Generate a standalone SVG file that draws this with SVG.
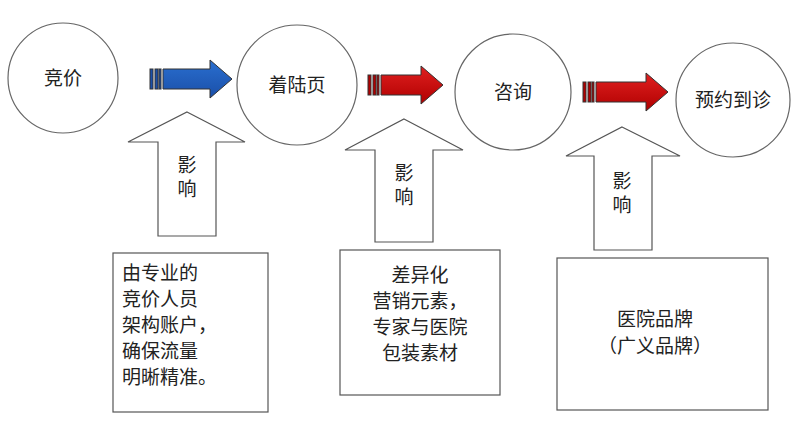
<svg xmlns="http://www.w3.org/2000/svg" width="800" height="425" viewBox="0 0 800 425">
<defs>
<linearGradient id="blue" x1="0" y1="0" x2="0" y2="1"><stop offset="0" stop-color="#2a6fd0"/><stop offset="1" stop-color="#1a4fa8"/></linearGradient>
<linearGradient id="red" x1="0" y1="0" x2="0" y2="1"><stop offset="0" stop-color="#e02020"/><stop offset="1" stop-color="#b00000"/></linearGradient>
</defs>
<style>
.c{fill:#fff;stroke:#666;stroke-width:1.2}
.b{fill:#fff;stroke:#555;stroke-width:1.2}
.t{font-family:"Liberation Serif","Noto Sans CJK SC",serif;font-size:19px;fill:#222}
.ar{stroke:#333;stroke-width:1}
</style>
<rect width="800" height="425" fill="#fff"/>
<g id="n1"><circle class="c" cx="63" cy="78" r="55"/><text class="t" x="63" y="85" text-anchor="middle">竞价</text></g>
<g id="n2"><circle class="c" cx="297" cy="85" r="60"/><text class="t" x="297" y="92" text-anchor="middle">着陆页</text></g>
<g id="n3"><circle class="c" cx="513" cy="92" r="58"/><text class="t" x="513" y="99" text-anchor="middle">咨询</text></g>
<g id="n4"><circle class="c" cx="733" cy="100" r="57"/><text class="t" x="733" y="107" text-anchor="middle">预约到诊</text></g>
<g id="connectors">
<g class="ar">
<rect x="150" y="69" width="3" height="20" fill="#1a4fa8"/><rect x="155" y="69" width="3" height="20" fill="#1a4fa8"/><rect x="159" y="69" width="2" height="20" fill="#1a4fa8"/>
<path d="M163 69H210V60L232 79L210 98V89H163Z" fill="url(#blue)"/>
<rect x="368" y="75" width="3" height="20" fill="#b00000"/><rect x="373" y="75" width="3" height="20" fill="#b00000"/><rect x="377" y="75" width="2" height="20" fill="#b00000"/>
<path d="M381 75H421V66L443 85L421 104V95H381Z" fill="url(#red)"/>
<rect x="583" y="82" width="3" height="20" fill="#b00000"/><rect x="588" y="82" width="3" height="20" fill="#b00000"/><rect x="592" y="82" width="2" height="20" fill="#b00000"/>
<path d="M596 82H646V73L668 92L646 111V102H596Z" fill="url(#red)"/>
</g>
<path class="b" d="M187 112L245 142H216V236H158V142H128Z"/>
<text class="t" x="187" y="172" text-anchor="middle">影</text><text class="t" x="187" y="196" text-anchor="middle">响</text>
<path class="b" d="M404 119L463 150H433V242H375V150H345Z"/>
<text class="t" x="404" y="180" text-anchor="middle">影</text><text class="t" x="404" y="204" text-anchor="middle">响</text>
<path class="b" d="M622 127L680 156H652V250H594V156H566Z"/>
<text class="t" x="622" y="188" text-anchor="middle">影</text><text class="t" x="622" y="212" text-anchor="middle">响</text>
</g>
<g id="box1"><rect class="b" x="113" y="253" width="155" height="159"/>
<text class="t" x="122" y="280">由专业的</text><text class="t" x="122" y="306">竞价人员</text><text class="t" x="122" y="332">架构账户，</text><text class="t" x="122" y="358">确保流量</text><text class="t" x="122" y="384">明晰精准。</text></g>
<g id="box2"><rect class="b" x="340" y="250" width="160" height="145"/>
<text class="t" x="420" y="282" text-anchor="middle">差异化</text><text class="t" x="420" y="308" text-anchor="middle">营销元素，</text><text class="t" x="420" y="334" text-anchor="middle">专家与医院</text><text class="t" x="420" y="360" text-anchor="middle">包装素材</text></g>
<g id="box3"><rect class="b" x="557" y="258" width="211" height="152"/>
<text class="t" x="655" y="326" text-anchor="middle">医院品牌</text><text class="t" x="655" y="353" text-anchor="middle">（广义品牌）</text></g>
</svg>
